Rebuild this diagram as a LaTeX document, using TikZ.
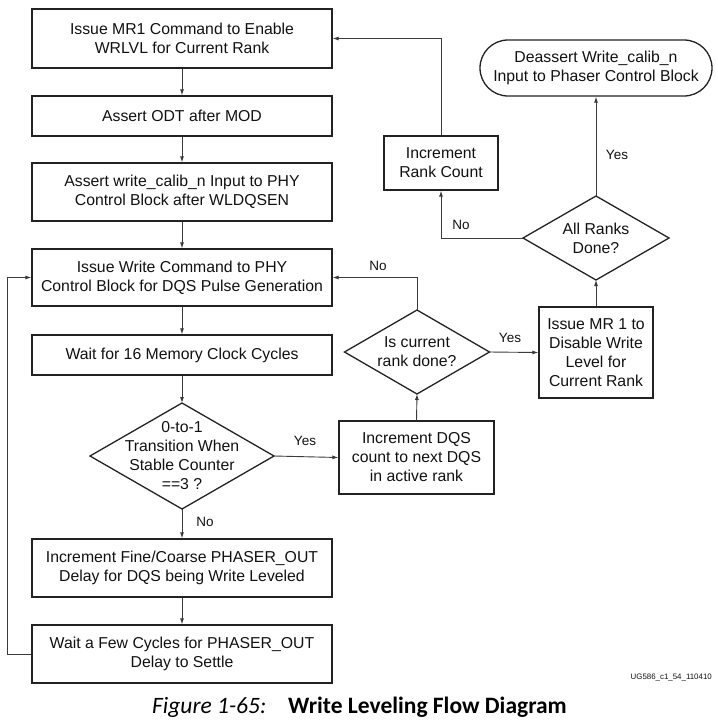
\documentclass[tikz,border=0pt]{standalone}
\usepackage{fontspec}
\setmainfont{Liberation Sans}
\newfontfamily\capfont{Carlito}
\usetikzlibrary{arrows.meta}
\definecolor{ln}{HTML}{3A3A3A}
\definecolor{bd}{HTML}{222222}
\definecolor{tx}{HTML}{111111}
\tikzset{
  box/.style={draw=bd, line width=1.3pt, rectangle, inner sep=0pt, align=center,
    text=tx, font=\fontsize{15.8}{19}\selectfont},
  term/.style={box, rounded corners=28pt},
  dtext/.style={inner sep=0pt, align=center, text=tx, font=\fontsize{15.8}{19}\selectfont},
  lbl/.style={inner sep=0pt, text=tx, font=\fontsize{13.5}{16}\selectfont},
  arr/.style={draw=ln, line width=0.9pt, -{Latex[length=6pt,width=4pt]}},
}
\begin{document}
\begin{tikzpicture}[x=1pt,y=-1pt]
\useasboundingbox (0,0) rectangle (718,721);
% left column
\node[box, minimum width=300pt, minimum height=59pt] (b1) at (182,38.5) {Issue MR1 Command to Enable\\WRLVL for Current Rank};
\node[box, minimum width=300pt, minimum height=40pt] (b2) at (182,116) {Assert ODT after MOD};
\node[box, minimum width=300pt, minimum height=58pt] (b3) at (182,192) {Assert write\_calib\_n Input to PHY\\Control Block after WLDQSEN};
\node[box, minimum width=300pt, minimum height=57pt] (b4) at (182,277.5) {Issue Write Command to PHY\\Control Block for DQS Pulse Generation};
\node[box, minimum width=300pt, minimum height=40pt] (b5) at (182,355) {Wait for 16 Memory Clock Cycles};
\draw[draw=bd, line width=1.3pt] (182,403) -- (274,456) -- (182,509) -- (90,456) -- cycle;
\coordinate (d1n) at (182,403);
\coordinate (d1s) at (182,509);
\coordinate (d1e) at (274,456);
\node[dtext] (d1t) at (182,456) {0-to-1\\Transition When\\Stable Counter\\==3 ?};
\node[box, minimum width=300pt, minimum height=58pt] (b6) at (182,568) {Increment Fine/Coarse PHASER\_OUT\\Delay for DQS being Write Leveled};
\node[box, minimum width=300pt, minimum height=58pt] (b7) at (182,654) {Wait a Few Cycles for PHASER\_OUT\\Delay to Settle};
% middle / right
\node[box, minimum width=155pt, minimum height=73pt] (b8) at (416.5,457.5) {Increment DQS\\count to next DQS\\in active rank};
\draw[draw=bd, line width=1.3pt] (417,310) -- (489.5,352) -- (417,394) -- (344.5,352) -- cycle;
\coordinate (d2n) at (417,310);
\coordinate (d2s) at (417,394);
\coordinate (d2e) at (489.5,352);
\node[dtext] (d2t) at (417,352) {Is current\\rank done?};
\node[box, minimum width=114pt, minimum height=91pt] (b9) at (596,352.5) {Issue MR 1 to\\Disable Write\\Level for\\Current Rank};
\draw[draw=bd, line width=1.3pt] (596,196) -- (669,238) -- (596,280) -- (523,238) -- cycle;
\coordinate (d3n) at (596,196);
\coordinate (d3s) at (596,280);
\coordinate (d3w) at (523,238);
\node[dtext] (d3t) at (596,238) {All Ranks\\Done?};
\node[box, minimum width=114pt, minimum height=54pt] (b10) at (441,163) {Increment\\Rank Count};
\node[term, minimum width=232pt, minimum height=56pt] (t1) at (596,68) {Deassert Write\_calib\_n\\Input to Phaser Control Block};
% connectors
\draw[arr] (b1) -- (b2);
\draw[arr] (b2) -- (b3);
\draw[arr] (b3) -- (b4);
\draw[arr] (b4) -- (b5);
\draw[arr] (b5) -- (d1n);
\draw[arr] (d1s) -- (b6.north);
\draw[arr] (b6) -- (b7);
\draw[arr] (b7.west) -- ++(-24,0) |- (b4.west);
\draw[arr] (d1e) -- (b8.west);
\draw[arr] (b8.north) -- (d2s);
\draw[arr] (d2n) |- (b4.east);
\draw[arr] (d2e) -- (b9.west);
\draw[arr] (b9.north) -- (d3s);
\draw[arr] (d3n) -- (t1.south);
\draw[arr] (d3w) -| (b10.south);
\draw[arr] (b10.north) |- (b1.east);
% labels
\node[lbl] (lno1) at (205,522) {No};
\node[lbl] (lyes1) at (305,441) {Yes};
\node[lbl] (lno2) at (378,266) {No};
\node[lbl] (lyes2) at (510,338) {Yes};
\node[lbl] (lno3) at (461,225) {No};
\node[lbl] (lyes3) at (617,155) {Yes};
% caption
\node[inner sep=0pt, anchor=base east, text=tx, font=\fontsize{7.9}{9}\selectfont] (ug) at (712,679) {UG586\_c1\_54\_110410};
\node[inner sep=0pt, anchor=base west, text=black, font=\capfont\fontsize{23.5}{28}\selectfont\itshape] (cap1) at (152,713) {Figure 1-65:};
\node[inner sep=0pt, anchor=base west, text=black, font=\capfont\fontsize{23.5}{28}\selectfont\bfseries] (cap2) at (288,713) {Write Leveling Flow Diagram};
\end{tikzpicture}
\end{document}
